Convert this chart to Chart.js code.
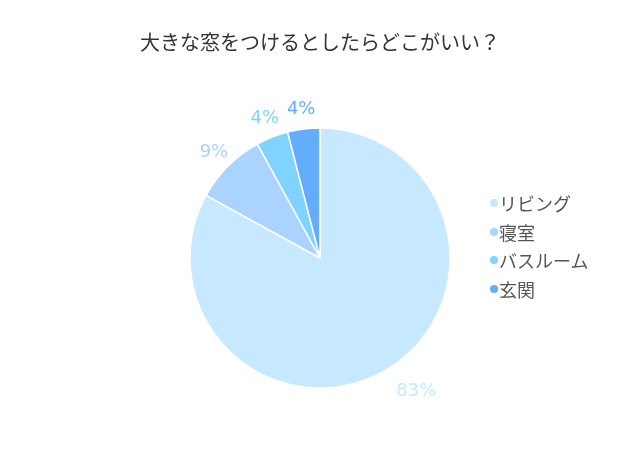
<!DOCTYPE html>
<html lang="ja">
<head>
<meta charset="utf-8">
<title>大きな窓をつけるとしたらどこがいい？</title>
<script src="https://cdn.jsdelivr.net/npm/chart.js@4/dist/chart.umd.min.js"></script>
<style>
    html, body {
        margin: 0;
        padding: 0;
        background: #fff;
    }
    .chart-box {
        position: relative;
        width: 640px;
        height: 450px;
    }
    .chart-legend {
        position: absolute;
        left: 490px;
        top: 189px;
        margin: 0;
        padding: 0;
        list-style: none;
        font-family: "Noto Sans CJK JP", sans-serif;
        font-size: 18px;
        color: #555;
    }
    .chart-legend li {
        display: flex;
        align-items: center;
        height: 28.5px;
    }
    .chart-legend__dot {
        display: inline-block;
        width: 8px;
        height: 8px;
        border-radius: 50%;
        margin-right: 1px;
    }
</style>
</head>
<body>
<div class="chart-box">
    <canvas id="window-pie" width="640" height="450"></canvas>
    <ul class="chart-legend" id="window-legend"></ul>
</div>
<script>
const titleText = "大きな窓をつけるとしたらどこがいい？";
const places = ["リビング", "寝室", "バスルーム", "玄関"];
const percents = [83, 9, 4, 4];
const sliceColors = ["#c6e9ff", "#aad3ff", "#80d3ff", "#63adfb"];

// Percent labels outside the slices
const outsideLabels = {
    id: "outsideLabels",
    afterDatasetsDraw(chart) {
        const ctx = chart.ctx;
        const meta = chart.getDatasetMeta(0);
        ctx.save();
        ctx.font = "18px 'DejaVu Sans'";
        ctx.textAlign = "center";
        ctx.textBaseline = "middle";
        meta.data.forEach((arc, i) => {
            const p = arc.getProps(["x", "y", "startAngle", "endAngle", "outerRadius"], true);
            const mid = (p.startAngle + p.endAngle) / 2;
            const dx = Math.cos(mid);
            const dy = Math.sin(mid);
            const text = percents[i] + "%";
            const w = ctx.measureText(text).width;
            let x = p.x + (p.outerRadius + 20) * dx;
            let y = p.y + (p.outerRadius + 20) * dy;
            if (dx > 0) x += w / 2;
            if (dy > 0) y += 4;
            ctx.fillStyle = sliceColors[i];
            ctx.fillText(text, x, y);
        });
        ctx.restore();
    }
};

let ctx = document.querySelector("#window-pie").getContext("2d");

let pieChart = new Chart(ctx, {
    type: "pie",
    data: {
        labels: places,
        datasets: [{
            data: percents,
            backgroundColor: sliceColors,
            borderColor: "#fff",
            borderWidth: 1.5
        }]
    },
    options: {
        responsive: false,
        animation: false,
        radius: 130,
        layout: {
            padding: {top: 0, bottom: 14, left: 0, right: 0}
        },
        plugins: {
            legend: {
                display: false
            },
            tooltip: {
                enabled: false
            },
            title: {
                display: true,
                text: titleText,
                color: "#333",
                font: {
                    family: "'Noto Sans CJK JP'",
                    size: 20,
                    weight: "normal"
                },
                padding: {top: 30, bottom: 26}
            }
        },
        events: []
    },
    plugins: [outsideLabels]
});

// Legend
const legendList = document.querySelector("#window-legend");
places.forEach((name, i) => {
    const li = document.createElement("li");
    const dot = document.createElement("span");
    dot.className = "chart-legend__dot";
    dot.style.background = sliceColors[i];
    li.appendChild(dot);
    li.appendChild(document.createTextNode(name));
    legendList.appendChild(li);
});
</script>
</body>
</html>
